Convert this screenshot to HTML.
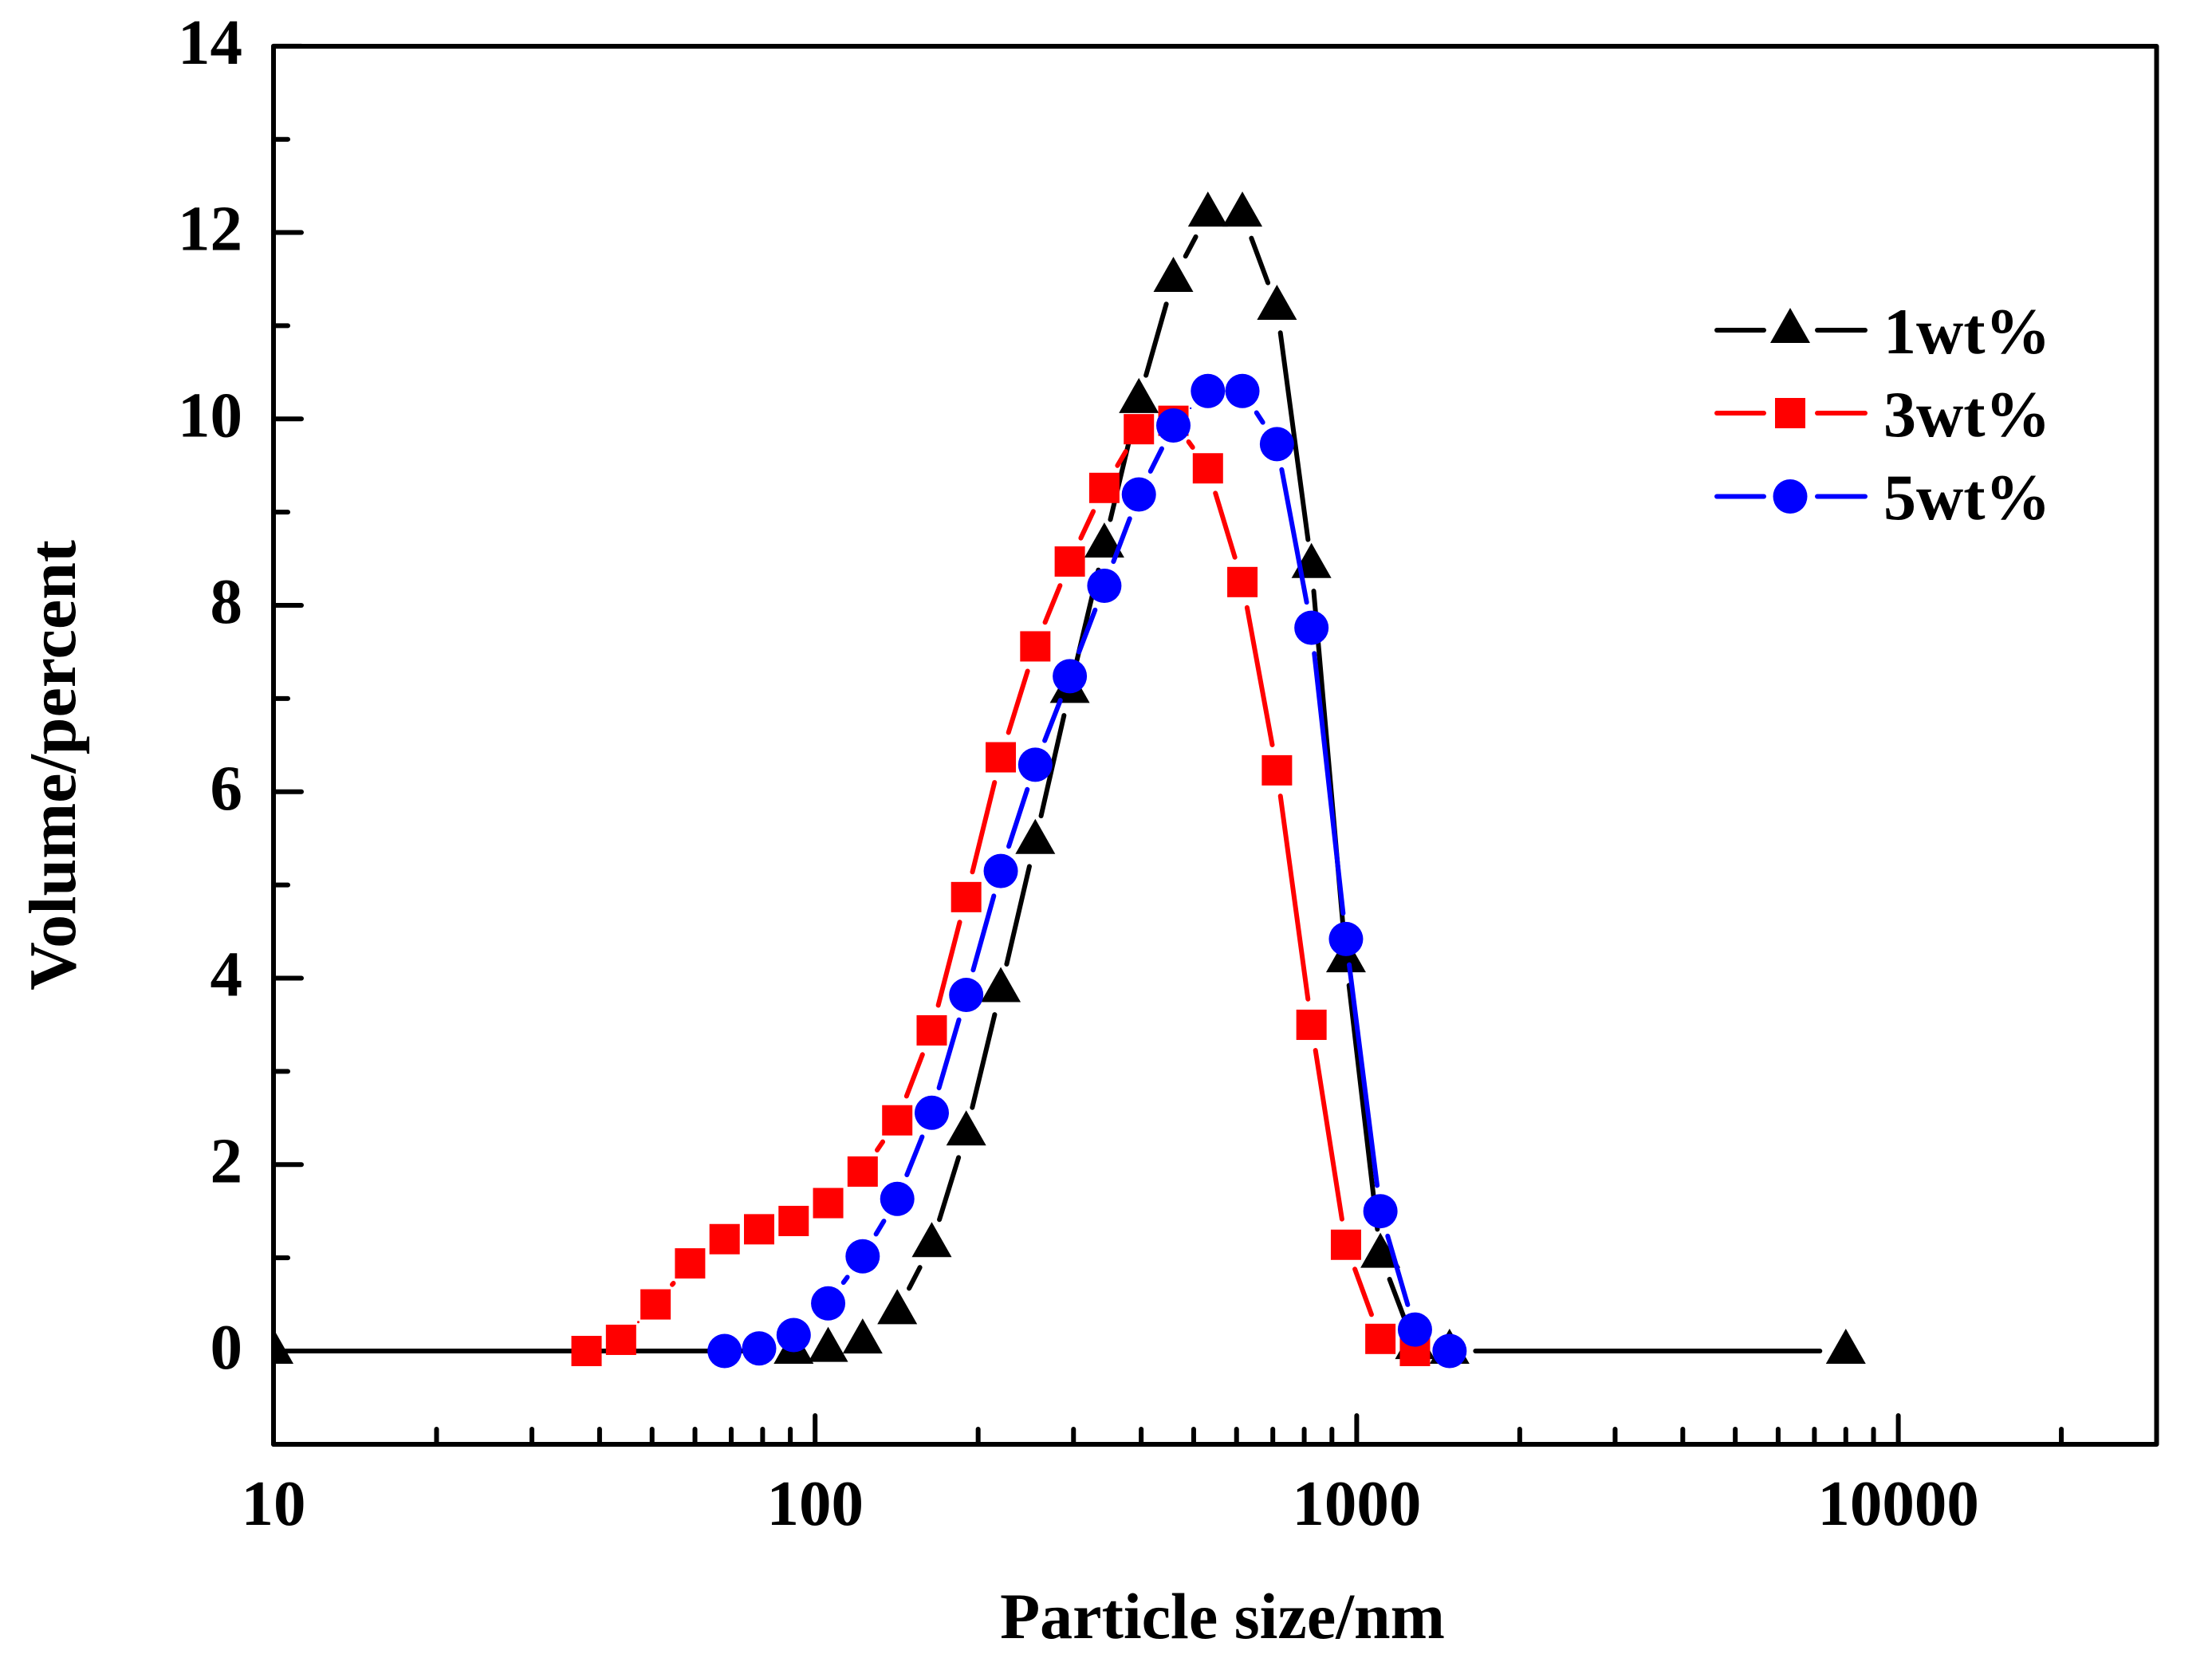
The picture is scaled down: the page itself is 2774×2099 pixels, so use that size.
<!DOCTYPE html>
<html lang="en">
<head>
<meta charset="utf-8">
<title>Particle size distribution</title>
<style>
html,body{margin:0;padding:0;background:#fff;width:2774px;height:2099px;overflow:hidden}
svg{display:block}
text{font-family:"Liberation Serif",serif;font-weight:bold;fill:#000}
</style>
</head>
<body>
<svg id="chart" xmlns="http://www.w3.org/2000/svg" width="2774" height="2099" viewBox="0 0 2774 2099">
<defs><clipPath id="plot-clip"><rect x="343" y="58" width="2361.5" height="1753"/></clipPath></defs>
<rect x="0" y="0" width="2774" height="2099" fill="#fff"/>
<text x="1533" y="2054" font-size="82" text-anchor="middle">Particle size/nm</text>
<text x="0" y="0" font-size="84" text-anchor="middle" transform="translate(94 959.5) rotate(-90)">Volume/percent</text>
<g id="ticks"></g>
<g id="series" clip-path="url(#plot-clip)"></g>
<rect x="343" y="58" width="2361.5" height="1753" fill="none" stroke="#000" stroke-width="6" stroke-linejoin="round"/>
<g id="legend"></g>
</svg>
<script>
const xMajorTicks = [10, 100, 1000, 10000];
const xMinorTicks = [20, 30, 40, 50, 60, 70, 80, 90, 200, 300, 400, 500, 600, 700, 800, 900, 2000, 3000, 4000, 5000, 6000, 7000, 8000, 9000, 20000];
const yMajorTicks = [0, 2, 4, 6, 8, 10, 12, 14];
const yMinorTicks = [1, 3, 5, 7, 9, 11, 13];

const sizes1 = [10, 91.28, 105.7, 122.4, 141.8, 164.2, 190.1, 220.2, 255, 295.3, 342, 396.1, 458.7, 531.2, 615.1, 712.4, 825, 955.4, 1106, 1281, 1484, 8000];
const volume1 = [0, 0, 0.02, 0.11, 0.425, 1.144, 2.342, 3.88, 5.47, 7.09, 8.65, 10.2, 11.5, 12.2, 12.2, 11.2, 8.43, 4.2, 1.03, 0.05, 0, 0];

const sizes3 = [37.84, 43.82, 50.75, 58.77, 68.06, 78.82, 91.28, 105.7, 122.4, 141.8, 164.2, 190.1, 220.2, 255, 295.3, 342, 396.1, 458.7, 531.2, 615.1, 712.4, 825, 955.4, 1106, 1281];
const volume3 = [0, 0.12, 0.5, 0.94, 1.2, 1.306, 1.395, 1.587, 1.925, 2.475, 3.44, 4.87, 6.37, 7.56, 8.47, 9.26, 9.89, 9.98, 9.47, 8.25, 6.23, 3.5, 1.14, 0.13, 0];

const sizes5 = [68.06, 78.82, 91.28, 105.7, 122.4, 141.8, 164.2, 190.1, 220.2, 255, 295.3, 342, 396.1, 458.7, 531.2, 615.1, 712.4, 825, 955.4, 1106, 1281, 1484];
const volume5 = [0, 0.028, 0.171, 0.511, 1.016, 1.632, 2.556, 3.82, 5.15, 6.29, 7.24, 8.21, 9.19, 9.93, 10.3, 10.3, 9.73, 7.76, 4.42, 1.5, 0.23, 0];

const legendLabels = ['1wt%', '3wt%', '5wt%'];

const NS = 'http://www.w3.org/2000/svg';
const xScale = v => 343 + (Math.log10(v) - 1) * 679.2;
const yScale = v => 1694 - v * 116.87;

function make(tag, attrs, parent) {
  const el = document.createElementNS(NS, tag);
  for (const k in attrs) el.setAttribute(k, attrs[k]);
  parent.appendChild(el);
  return el;
}

function drawMarker(kind, cx, cy, color, parent, name) {
  let el;
  if (kind === 'triangle') {
    const pts = (cx - 25) + ',' + (cy + 16) + ' ' + (cx + 25) + ',' + (cy + 16) + ' ' + cx + ',' + (cy - 28);
    el = make('polygon', { points: pts, fill: color }, parent);
  } else if (kind === 'square') {
    el = make('rect', { x: cx - 19, y: cy - 19, width: 38, height: 38, fill: color }, parent);
  } else {
    el = make('circle', { cx: cx, cy: cy, r: 21.5, fill: color }, parent);
  }
  
  
}

const ticksGroup = document.getElementById('ticks');
const tickStyle = { stroke: '#000', 'stroke-width': 6, 'stroke-linecap': 'round' };

xMajorTicks.forEach(v => {
  const t = make('line', Object.assign({ x1: xScale(v), x2: xScale(v), y1: 1811, y2: 1775 }, tickStyle), ticksGroup);
  
  
  const l = make('text', { x: xScale(v), y: 1912, 'font-size': 81, 'text-anchor': 'middle' }, ticksGroup);
  l.textContent = String(v);
  
  
});
xMinorTicks.forEach(v => {
  const t = make('line', Object.assign({ x1: xScale(v), x2: xScale(v), y1: 1811, y2: 1792 }, tickStyle), ticksGroup);
  
  
});
yMajorTicks.forEach(v => {
  const t = make('line', Object.assign({ x1: 343, x2: 378, y1: yScale(v), y2: yScale(v) }, tickStyle), ticksGroup);
  
  
  const l = make('text', { x: 304, y: yScale(v) + 22, 'font-size': 81, 'text-anchor': 'end' }, ticksGroup);
  l.textContent = String(v);
  
  
});
yMinorTicks.forEach(v => {
  const t = make('line', Object.assign({ x1: 343, x2: 361, y1: yScale(v), y2: yScale(v) }, tickStyle), ticksGroup);
  
  
});

const CLEAR = 29.5;
function drawSeries(name, xs, ys, color, kind) {
  const g = make('g', {}, document.getElementById('series'));
  
  
  const px = xs.map(xScale);
  const py = ys.map(yScale);
  for (let i = 0; i < px.length - 1; i++) {
    const dx = px[i + 1] - px[i];
    const dy = py[i + 1] - py[i];
    const len = Math.hypot(dx, dy);
    const room = len - CLEAR * 2;
    if (room <= 0) continue;
    const sw = Math.min(6, room);
    const inset = CLEAR + sw / 2;
    const ux = dx / len;
    const uy = dy / len;
    const seg = make('line', {
      x1: px[i] + ux * inset, y1: py[i] + uy * inset,
      x2: px[i + 1] - ux * inset, y2: py[i + 1] - uy * inset,
      stroke: color, 'stroke-width': sw, 'stroke-linecap': 'round'
    }, g);
    
    
  }
  px.forEach((x, i) => drawMarker(kind, x, py[i], color, g, name + '-point'));
}
drawSeries('series-1wt', sizes1, volume1, '#000', 'triangle');
drawSeries('series-3wt', sizes3, volume3, '#f00', 'square');
drawSeries('series-5wt', sizes5, volume5, '#00f', 'circle');

const legendGroup = document.getElementById('legend');
const legendRows = [
  { color: '#000', kind: 'triangle', y: 414, base: 443 },
  { color: '#f00', kind: 'square', y: 518, base: 547 },
  { color: '#00f', kind: 'circle', y: 622.5, base: 651 }
];
legendRows.forEach((r, i) => {
  const a = make('line', { x1: 2153, x2: 2212, y1: r.y, y2: r.y, stroke: r.color, 'stroke-width': 6, 'stroke-linecap': 'round' }, legendGroup);
  
  
  const b = make('line', { x1: 2279, x2: 2339, y1: r.y, y2: r.y, stroke: r.color, 'stroke-width': 6, 'stroke-linecap': 'round' }, legendGroup);
  
  
  drawMarker(r.kind, 2245, r.y, r.color, legendGroup, 'legend-marker');
  const t = make('text', { x: 2362, y: r.base, 'font-size': 82 }, legendGroup);
  t.textContent = legendLabels[i];
  
  
});
</script>
</body>
</html>
